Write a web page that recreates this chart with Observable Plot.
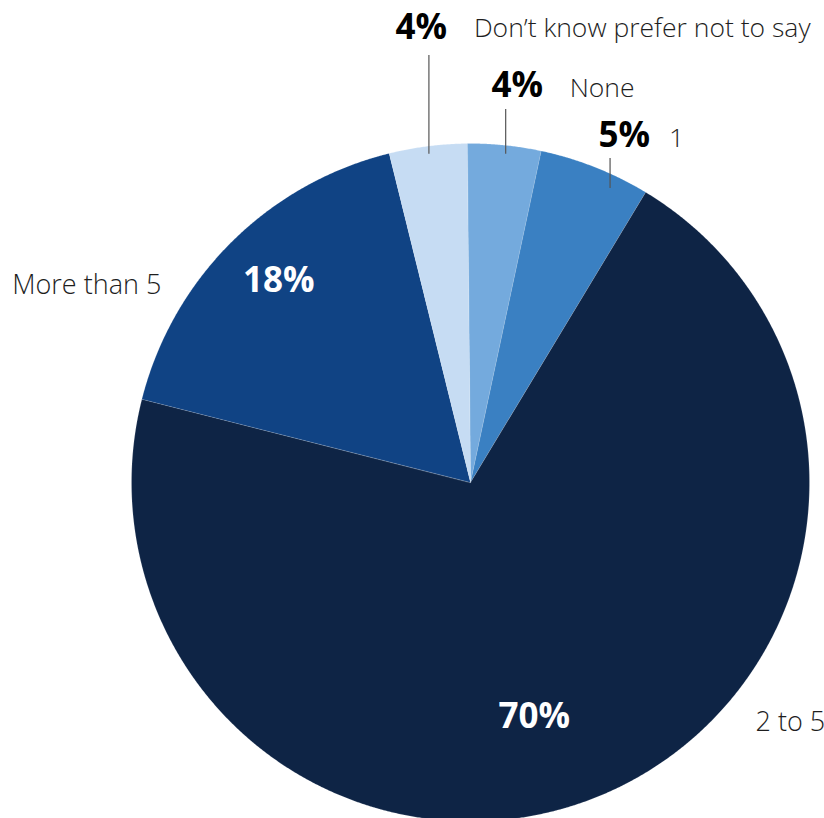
<!DOCTYPE html>
<html>
<head>
<meta charset="utf-8">
<script src="https://cdn.jsdelivr.net/npm/d3@7"></script>
<script src="https://cdn.jsdelivr.net/npm/@observablehq/plot@0.6"></script>
<style>
  html, body { margin: 0; padding: 0; background: #fff; }
  #chart svg { display: block; }
</style>
</head>
<body>
<div id="chart"></div>
<script>
// ---- data ----
const categories = ["None", "1", "2 to 5", "More than 5", "Don\u2019t know prefer not to say"];
const values = [3.5, 5.3, 70.3, 17.2, 3.7];
const pctLabels = ["4%", "5%", "70%", "18%", "4%"];
const colors = ["#74aadd", "#3a80c2", "#0e2445", "#104384", "#c6dcf3"];

// ---- layout ----
const W = 824, H = 818;
const cx = 470, cy = 482, R = 339;
const startAngle = -0.0098;
// label placement: angle fraction within slice
const insideLayout = { "2 to 5": { f: 0.528, r: 0.716 }, "More than 5": { f: 0.52, r: 0.82 } };
// outside labels: leader at angle fraction f, from radius factor rb; text offsets relative to leader top
const outsideLayout = {
  "Don\u2019t know prefer not to say": { f: 0.5, rb: 0.976, top: 55, pdx: -33.5, pdy: -16.7, ndx: 45, ndy: -18.3 },
  "None": { f: 0.53, rb: 0.974, top: 109, pdx: -14.3, pdy: -12.3, ndx: 64, ndy: -12.3 },
  "1": { f: 0.70, rb: 0.96, top: 158, pdx: -11.6, pdy: -11.3, ndx: 59, ndy: -11.3 }
};
const sideNames = { "More than 5": { x: 11.7, y: 293.3 }, "2 to 5": { x: 755, y: 730 } };

const rows = categories.map((c, i) => ({ cat: c, value: values[i], label: pctLabels[i] }));
const arcs = d3.pie().sort(null).value(d => d.value)
  .startAngle(startAngle).endAngle(startAngle + 2 * Math.PI)(rows);

const pt = (a, r) => ({ x: cx + r * Math.sin(a), y: cy - r * Math.cos(a) });

const points = arcs.flatMap(a => {
  const n = Math.max(4, Math.ceil((a.endAngle - a.startAngle) / 0.004));
  const pts = [{ cat: a.data.cat, x: cx, y: cy }];
  for (let i = 0; i <= n; i++) {
    const ang = a.startAngle + (a.endAngle - a.startAngle) * i / n;
    pts.push({ cat: a.data.cat, ...pt(ang, R) });
  }
  return pts;
});

const inside = arcs.filter(a => insideLayout[a.data.cat]).map(a => {
  const L = insideLayout[a.data.cat];
  const ang = a.startAngle + (a.endAngle - a.startAngle) * L.f;
  return { label: a.data.label, ...pt(ang, R * L.r) };
});

const leaders = [], outPct = [], outName = [];
arcs.filter(a => outsideLayout[a.data.cat]).forEach(a => {
  const L = outsideLayout[a.data.cat];
  const ang = a.startAngle + (a.endAngle - a.startAngle) * L.f;
  const b = pt(ang, R * L.rb);
  leaders.push({ x: b.x, y1: b.y, y2: L.top });
  outPct.push({ label: a.data.label, x: b.x + L.pdx, y: L.top + L.pdy });
  outName.push({ label: a.data.cat, x: b.x + L.ndx, y: L.top + L.ndy });
});
const sides = Object.entries(sideNames).map(([k, v]) => ({ label: k, ...v }));

const font = "'Open Sans', 'Noto Sans', sans-serif";
const pctSize = 35, inSize = 35, nameSize = 26.5, sideSize = 27;

const plot = Plot.plot({
  width: W, height: H,
  margin: 0,
  x: { domain: [0, W], range: [0, W], axis: null },
  y: { domain: [0, H], range: [0, H], axis: null },
  color: { domain: categories, range: colors },
  style: { fontFamily: font, background: "#fff" },
  marks: [
    Plot.line(points, { x: "x", y: "y", z: "cat", fill: "cat", stroke: "#ffffff", strokeOpacity: 0.25, strokeWidth: 0.6, curve: "linear-closed" }),
    Plot.ruleX(leaders, { x: "x", y1: "y1", y2: "y2", stroke: "#555", strokeWidth: 1.2 }),
    Plot.text(inside, { x: "x", y: "y", text: "label", fill: "#fff", fontSize: inSize, fontWeight: 700, textAnchor: "middle" }),
    Plot.text(outPct, { x: "x", y: "y", text: "label", fill: "#000", fontSize: pctSize, fontWeight: 700, textAnchor: "start", dy: -0.32 * pctSize }),
    Plot.text(outName, { x: "x", y: "y", text: "label", fill: "#1e1e1e", fontSize: nameSize, fontWeight: 300, textAnchor: "start", dy: -0.32 * nameSize }),
    Plot.text(sides, { x: "x", y: "y", text: "label", fill: "#1e1e1e", fontSize: sideSize, fontWeight: 300, textAnchor: "start", dy: -0.32 * sideSize })
  ]
});
document.getElementById("chart").appendChild(plot);
</script>
</body>
</html>
